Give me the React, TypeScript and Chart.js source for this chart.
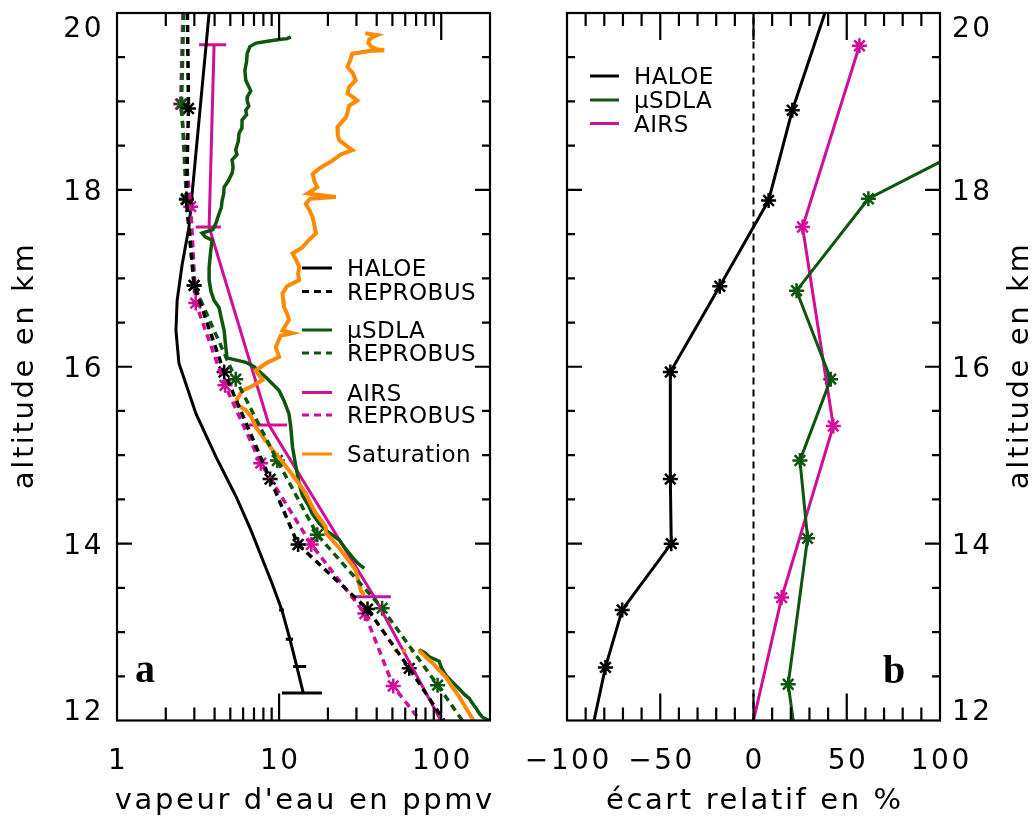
import React, { useEffect, useRef } from "react";
import { Chart, registerables } from "chart.js";

Chart.register(...registerables);

// ---------------- colours ----------------
const BLACK = "#000000";
const GREEN = "#0d560d";
const MAGENTA = "#cf0f9a";
const ORANGE = "#ff8a00";
const FONT = '"DejaVu Sans", "Liberation Sans", sans-serif';

// ---------------- Panel a : vapeur d'eau (ppmv) ----------------
// HALOE (solid black)
const haloeAlt = [20.0, 17.58, 17.15, 16.75, 16.41, 16.04, 15.47, 14.98, 14.53, 14.15, 13.55, 13.25, 12.91, 12.6, 12.31];
const haloeVap = [3.7, 2.78, 2.52, 2.35, 2.31, 2.41, 3.07, 4.08, 5.43, 6.71, 9.05, 10.4, 11.7, 12.9, 14.1];
const haloeErrAlt = [13.25, 12.92, 12.61, 12.31];
const haloeErrLo = [10.0, 11.0, 12.2, 10.4];
const haloeErrHi = [10.7, 12.2, 14.7, 18.4];

// REPROBUS interpolated to HALOE (black dashed + stars)
const repHaloeAlt = [20.0, 18.92, 17.89, 16.92, 15.94, 14.73, 13.99, 13.26, 12.59, 12.0];
const repHaloeVap = [2.72, 2.76, 2.68, 2.99, 4.58, 8.8, 13.1, 35.1, 63.5, 104];
const repHaloeStarAlt = [18.92, 17.89, 16.92, 15.94, 14.73, 13.99, 13.26, 12.59];
const repHaloeStarVap = [2.76, 2.68, 2.99, 4.58, 8.8, 13.1, 35.1, 63.5];

// µSDLA (solid green), two pieces separated by a data gap
const sdlaAltUpper = [19.73, 19.71, 19.7, 19.68, 19.66, 19.62, 19.54, 19.45, 19.35, 19.24, 19.12, 19.06, 19.01, 18.95, 18.9, 18.85, 18.79, 18.7, 18.64, 18.55, 18.45, 18.4, 18.34, 18.25, 18.19, 18.1, 18.03, 17.95, 17.88, 17.8, 17.73, 17.62, 17.55, 17.51, 17.47, 17.43, 17.3, 17.12, 16.98, 16.85, 16.75, 16.67, 16.55, 16.41, 16.22, 16.1, 16.05, 16.0, 15.88, 15.73, 15.62, 15.47, 15.32, 15.09, 14.87, 14.68, 14.55, 14.42, 14.34, 14.23, 14.15, 14.04, 13.95, 13.85, 13.78, 13.72];
const sdlaVapUpper = [11.8, 11.2, 10.0, 8.5, 7.2, 6.6, 6.35, 6.3, 6.15, 6.23, 6.69, 6.4, 6.35, 6.5, 6.23, 6.3, 5.91, 5.9, 5.66, 5.6, 5.4, 5.5, 5.13, 5.2, 5.13, 4.85, 4.58, 4.55, 4.45, 4.4, 4.26, 4.07, 3.9, 3.35, 3.5, 3.86, 3.78, 3.7, 3.7, 3.8, 3.97, 4.26, 4.4, 4.58, 4.69, 4.77, 6.23, 7.01, 8.28, 10.0, 10.7, 11.5, 11.8, 12.1, 12.7, 13.3, 13.9, 15.3, 16.0, 17.7, 19.5, 23.5, 25.5, 28.2, 30.5, 33.5];
const sdlaAltLower = [12.8, 12.76, 12.72, 12.67, 12.6, 12.51, 12.45, 12.36, 12.3, 12.25, 12.2, 12.14, 12.08, 12.04, 12.0];
const sdlaVapLower = [73.1, 80, 84.3, 97.2, 100, 107, 115, 129, 138, 149, 155, 164, 172, 179, 198];

// REPROBUS interpolated to µSDLA (green dashed + stars)
const repSdlaAlt = [20.0, 18.97, 17.9, 16.92, 15.86, 14.94, 14.1, 13.27, 12.4, 12.0];
const repSdlaVap = [2.58, 2.5, 2.68, 2.99, 5.4, 9.75, 17.2, 43.2, 95, 135];
const repSdlaStarAlt = [18.97, 17.9, 16.92, 15.86, 14.94, 14.1, 13.27, 12.4];
const repSdlaStarVap = [2.5, 2.68, 2.99, 5.4, 9.75, 17.2, 43.2, 95];

// AIRS (solid magenta) with horizontal error bars
const airsAlt = [19.64, 17.58, 15.34, 13.4, 12.0];
const airsVap = [3.97, 3.7, 8.67, 38.6, 99.5];
const airsErrAlt = [19.64, 17.58, 15.34, 13.4];
const airsErrLo = [3.21, 3.06, 6.53, 29.0];
const airsErrHi = [4.72, 4.37, 11.2, 48.9];

// REPROBUS interpolated to AIRS (magenta dashed + stars)
const repAirsAlt = [20.0, 18.97, 17.81, 16.72, 15.79, 14.91, 13.99, 13.21, 12.39, 12.0];
const repAirsVap = [2.55, 2.47, 2.85, 3.06, 4.64, 7.7, 15.8, 33.8, 50.6, 74];
const repAirsStarAlt = [18.97, 17.81, 16.72, 15.79, 14.91, 13.99, 13.21, 12.39];
const repAirsStarVap = [2.47, 2.85, 3.06, 4.64, 7.7, 15.8, 33.8, 50.6];

// Saturation (orange)
const satAltUpper = [19.77, 19.76, 19.75, 19.73, 19.7, 19.66, 19.62, 19.59, 19.58, 19.57, 19.55, 19.54, 19.47, 19.39, 19.32, 19.24, 19.16, 19.09, 19.04, 19.01, 18.95, 18.88, 18.82, 18.71, 18.62, 18.56, 18.5, 18.45, 18.4, 18.33, 18.25, 18.18, 18.1, 18.03, 17.96, 17.92, 17.9, 17.84, 17.76, 17.69, 17.6, 17.51, 17.43, 17.35, 17.28, 17.2, 17.13, 17.05, 16.98, 16.91, 16.83, 16.75, 16.68, 16.6, 16.53, 16.45, 16.41, 16.38, 16.35, 16.22, 16.11, 16.05, 15.96, 15.85, 15.78, 15.73, 15.64, 15.58, 15.51, 15.42, 15.32, 15.2, 15.06, 14.95, 14.83, 14.7, 14.57, 14.49, 14.42, 14.34, 14.19, 14.12, 14.04, 13.95, 13.85, 13.7, 13.58, 13.47, 13.42];
const satVapUpper = [34.0, 37, 40.3, 38, 36, 35.5, 37, 40, 44.5, 36, 31, 28.3, 27.5, 26.4, 28.5, 29.7, 27, 26.4, 29, 30.4, 27, 26.5, 25.8, 22.9, 23.0, 23.5, 26, 28.3, 24, 21.3, 18, 16.1, 16.5, 17.2, 15.0, 22.4, 15.5, 14.6, 15.5, 16.1, 16.5, 16.9, 15.2, 13.9, 12.1, 12.8, 13.3, 13.1, 13.3, 11.2, 10.5, 10.6, 10.7, 11.2, 11.5, 10.8, 10.5, 12.1, 10.2, 9.54, 10.0, 8.5, 7.18, 7.89, 6.8, 5.93, 5.53, 5.4, 6.23, 6.8, 7.18, 8.0, 9.09, 10.2, 11.5, 13.0, 14.6, 15.3, 16.0, 16.9, 19.4, 19.4, 21.3, 23.5, 25.8, 29.7, 30.8, 31.9, 33.5];
const satAltLower = [12.79, 12.72, 12.65, 12.57, 12.49, 12.4, 12.27, 12.18, 12.08, 12.0];
const satVapLower = [73.1, 80, 88.4, 97, 107, 115, 129, 138, 149, 158];
const satGapAlt = [12.79, 12.79];
const satGapVap = [51.3, 73.1];

// ---------------- Panel b : écart relatif (%) ----------------
const diffHaloeAlt = [20.0, 18.9, 17.88, 16.91, 15.94, 14.73, 14.0, 13.25, 12.6, 12.0];
const diffHaloeVal = [38.3, 20.8, 8.1, -18.1, -44.6, -44.6, -44.1, -70.4, -79.4, -85.5];
const diffHaloeStarAlt = [18.9, 17.88, 16.91, 15.94, 14.73, 14.0, 13.25, 12.6];
const diffHaloeStarVal = [20.8, 8.1, -18.1, -44.6, -44.6, -44.1, -70.4, -79.4];

const diffSdlaAlt = [18.5, 17.9, 16.86, 15.86, 14.94, 14.06, 12.41, 12.0];
const diffSdlaVal = [117, 61.6, 23.1, 41.4, 24.9, 29.0, 18.6, 21.3];
const diffSdlaStarAlt = [17.9, 16.86, 15.86, 14.94, 14.06, 12.41];
const diffSdlaStarVal = [61.6, 23.1, 41.4, 24.9, 29.0, 18.6];

const diffAirsAlt = [19.63, 17.58, 15.33, 13.39, 12.0];
const diffAirsVal = [56.8, 26.3, 42.8, 15.1, 0.0];
const diffAirsStarAlt = [19.63, 17.58, 15.33, 13.39];
const diffAirsStarVal = [56.8, 26.3, 42.8, 15.1];

const zeroLineAlt = [12, 20];
const zeroLineVal = [0, 0];

// ---------------- axis ticks ----------------
const altLabels = [12, 14, 16, 18, 20];
const altMajor = [14, 16, 18];
const altMinor = [12.5, 13, 13.5, 14.5, 15, 15.5, 16.5, 17, 17.5, 18.5, 19, 19.5];
const vapLabels = [1, 10, 100];
const vapMajor = [10, 100];
const vapMinor = [2, 3, 4, 5, 6, 7, 8, 9, 20, 30, 40, 50, 60, 70, 80, 90];
const diffLabels = [-100, -50, 0, 50, 100];
const diffMajor = [-50, 0, 50];
const diffMinor = [-90, -80, -70, -60, -40, -30, -20, -10, 10, 20, 30, 40, 60, 70, 80, 90];

// ---------------- helpers ----------------
const pts = (alt: number[], val: number[]) => alt.map((a, i) => ({ x: val[i], y: a }));

function lineDs(alt: number[], val: number[], color: string, width: number, dash: number[] = []) {
  return {
    data: pts(alt, val),
    showLine: true,
    borderColor: color,
    backgroundColor: color,
    borderWidth: width,
    borderDash: dash,
    pointRadius: 0,
    pointHoverRadius: 0,
    tension: 0,
  };
}

function starDs(alt: number[], val: number[], color: string) {
  return {
    data: pts(alt, val),
    showLine: false,
    pointStyle: "star",
    pointRadius: 7.5,
    pointBorderWidth: 2.5,
    borderColor: color,
    pointBorderColor: color,
    backgroundColor: color,
    pointHoverRadius: 7.5,
  };
}

function errBars(alt: number[], lo: number[], hi: number[], color: string, width: number) {
  return alt.map((a, i) => lineDs([a, a], [lo[i], hi[i]], color, width));
}

function fmtNum(v: number) {
  return v < 0 ? "\u2212" + String(-v) : String(v);
}

type LegendItem = { text: string; color: string; dash: number[]; y: number };
type Spec = {
  xMajor: number[];
  xMinor: number[];
  xLabels: number[];
  yMajor: number[];
  yMinor: number[];
  yLabels: number[];
  ySide: "left" | "right";
  xTitle: string;
  yTitle: string;
  yTitleX: number;
  legendX0: number;
  legendX1: number;
  legendTextX: number;
  legend: LegendItem[];
  letter: string;
  letterX: number;
  letterY: number;
};

function makeAxesPlugin(spec: Spec) {
  return {
    id: "idlAxes",
    afterDatasetsDraw(chart: any) {
      const { ctx, chartArea: a, scales } = chart;
      const xs = scales.x;
      const ys = scales.y;
      ctx.save();
      ctx.strokeStyle = BLACK;
      ctx.fillStyle = BLACK;
      ctx.lineWidth = 2.2;
      ctx.setLineDash([]);
      // frame
      ctx.strokeRect(a.left, a.top, a.right - a.left, a.bottom - a.top);
      // ticks
      ctx.beginPath();
      const xt = (v: number, len: number) => {
        const px = xs.getPixelForValue(v);
        ctx.moveTo(px, a.bottom);
        ctx.lineTo(px, a.bottom - len);
        ctx.moveTo(px, a.top);
        ctx.lineTo(px, a.top + len);
      };
      const yt = (v: number, len: number) => {
        const py = ys.getPixelForValue(v);
        ctx.moveTo(a.left, py);
        ctx.lineTo(a.left + len, py);
        ctx.moveTo(a.right, py);
        ctx.lineTo(a.right - len, py);
      };
      spec.xMajor.forEach((v) => xt(v, 27));
      spec.xMinor.forEach((v) => xt(v, 13));
      spec.yMajor.forEach((v) => yt(v, 15));
      spec.yMinor.forEach((v) => yt(v, 8));
      ctx.stroke();

      // tick labels
      const capH = 0.73 * 28;
      ctx.font = `28px ${FONT}`;
      (ctx as any).letterSpacing = "2.5px";
      ctx.textBaseline = "alphabetic";
      ctx.textAlign = "center";
      spec.xLabels.forEach((v) => {
        const px = xs.getPixelForValue(v);
        ctx.fillText(fmtNum(v), px + 1.25, a.bottom + 48);
      });
      spec.yLabels.forEach((v) => {
        let py = ys.getPixelForValue(v);
        py = Math.max(a.top + 14, Math.min(a.bottom - 11, py));
        if (spec.ySide === "left") {
          ctx.textAlign = "right";
          ctx.fillText(fmtNum(v), a.left - 13, py + capH / 2);
        } else {
          ctx.textAlign = "left";
          ctx.fillText(fmtNum(v), a.right + 12, py + capH / 2);
        }
      });

      // axis titles
      ctx.font = `29px ${FONT}`;
      (ctx as any).letterSpacing = "2.6px";
      ctx.textAlign = "center";
      ctx.fillText(spec.xTitle, (a.left + a.right) / 2 + 1.3, a.bottom + 88);
      ctx.save();
      ctx.translate(spec.yTitleX, (a.top + a.bottom) / 2);
      ctx.rotate(-Math.PI / 2);
      ctx.fillText(spec.yTitle, 1.3, 0);
      ctx.restore();

      // legend
      ctx.font = `23px ${FONT}`;
      (ctx as any).letterSpacing = "0.4px";
      ctx.textAlign = "left";
      ctx.lineWidth = 3;
      spec.legend.forEach((it) => {
        ctx.strokeStyle = it.color;
        ctx.setLineDash(it.dash);
        ctx.beginPath();
        ctx.moveTo(spec.legendX0, it.y);
        ctx.lineTo(spec.legendX1, it.y);
        ctx.stroke();
        ctx.fillStyle = BLACK;
        ctx.fillText(it.text, spec.legendTextX, it.y + 8.4);
      });
      ctx.setLineDash([]);

      // panel letter
      ctx.font = `bold 40px "Liberation Serif", serif`;
      (ctx as any).letterSpacing = "0px";
      ctx.textAlign = "center";
      ctx.fillStyle = BLACK;
      ctx.fillText(spec.letter, spec.letterX, spec.letterY);
      ctx.restore();
    },
  };
}

const baseOptions = (xScale: any, padding: any) => ({
  responsive: false,
  animation: false as const,
  events: [] as any[],
  layout: { padding },
  plugins: { legend: { display: false }, tooltip: { enabled: false } },
  scales: {
    x: { ...xScale, display: false },
    y: { type: "linear", min: 12, max: 20, display: false },
  },
});

export default function App() {
  const leftRef = useRef<HTMLCanvasElement>(null);
  const rightRef = useRef<HTMLCanvasElement>(null);

  useEffect(() => {
    const specA: Spec = {
      xMajor: vapMajor,
      xMinor: vapMinor,
      xLabels: vapLabels,
      yMajor: altMajor,
      yMinor: altMinor,
      yLabels: altLabels,
      ySide: "left",
      xTitle: "vapeur d'eau en ppmv",
      yTitle: "altitude en km",
      yTitleX: 33,
      legendX0: 302,
      legendX1: 332,
      legendTextX: 347,
      legend: [
        { text: "HALOE", color: BLACK, dash: [], y: 268 },
        { text: "REPROBUS", color: BLACK, dash: [7, 5], y: 291.5 },
        { text: "\u03bcSDLA", color: GREEN, dash: [], y: 330 },
        { text: "REPROBUS", color: GREEN, dash: [7, 5], y: 353 },
        { text: "AIRS", color: MAGENTA, dash: [], y: 392.5 },
        { text: "REPROBUS", color: MAGENTA, dash: [7, 5], y: 415 },
        { text: "Saturation", color: ORANGE, dash: [], y: 454 },
      ],
      letter: "a",
      letterX: 145,
      letterY: 682,
    };

    const dsA = [
      lineDs(repHaloeAlt, repHaloeVap, BLACK, 3.5, [7, 5]),
      lineDs(repSdlaAlt, repSdlaVap, GREEN, 3.5, [7, 5]),
      lineDs(repAirsAlt, repAirsVap, MAGENTA, 3.5, [7, 5]),
      lineDs(satAltUpper, satVapUpper, ORANGE, 4),
      lineDs(satAltLower, satVapLower, ORANGE, 4),
      lineDs(satGapAlt, satGapVap, ORANGE, 3.5, [4, 4]),
      lineDs(sdlaAltUpper, sdlaVapUpper, GREEN, 3.5),
      lineDs(sdlaAltLower, sdlaVapLower, GREEN, 3.5),
      lineDs(haloeAlt, haloeVap, BLACK, 3),
      ...errBars(haloeErrAlt, haloeErrLo, haloeErrHi, BLACK, 3),
      lineDs(airsAlt, airsVap, MAGENTA, 3),
      ...errBars(airsErrAlt, airsErrLo, airsErrHi, MAGENTA, 3),
      starDs(repHaloeStarAlt, repHaloeStarVap, BLACK),
      starDs(repSdlaStarAlt, repSdlaStarVap, GREEN),
      starDs(repAirsStarAlt, repAirsStarVap, MAGENTA),
    ];

    const chartA = new Chart(leftRef.current as HTMLCanvasElement, {
      type: "scatter",
      data: { datasets: dsA as any },
      options: baseOptions({ type: "logarithmic", min: 1, max: 200 }, { left: 117, right: 30, top: 13, bottom: 99.5 }) as any,
      plugins: [makeAxesPlugin(specA)],
    });

    const specB: Spec = {
      xMajor: diffMajor,
      xMinor: diffMinor,
      xLabels: diffLabels,
      yMajor: altMajor,
      yMinor: altMinor,
      yLabels: altLabels,
      ySide: "right",
      xTitle: "\u00e9cart relatif en %",
      yTitle: "altitude en km",
      yTitleX: 528,
      legendX0: 90,
      legendX1: 119,
      legendTextX: 134,
      legend: [
        { text: "HALOE", color: BLACK, dash: [], y: 76 },
        { text: "\u03bcSDLA", color: GREEN, dash: [], y: 100 },
        { text: "AIRS", color: MAGENTA, dash: [], y: 123.5 },
      ],
      letter: "b",
      letterX: 394,
      letterY: 683,
    };

    const dsB = [
      lineDs(zeroLineAlt, zeroLineVal, BLACK, 2, [7, 5]),
      lineDs(diffHaloeAlt, diffHaloeVal, BLACK, 3),
      lineDs(diffSdlaAlt, diffSdlaVal, GREEN, 3),
      lineDs(diffAirsAlt, diffAirsVal, MAGENTA, 3),
      starDs(diffHaloeStarAlt, diffHaloeStarVal, BLACK),
      starDs(diffSdlaStarAlt, diffSdlaStarVal, GREEN),
      starDs(diffAirsStarAlt, diffAirsStarVal, MAGENTA),
    ];

    const chartB = new Chart(rightRef.current as HTMLCanvasElement, {
      type: "scatter",
      data: { datasets: dsB as any },
      options: baseOptions({ type: "linear", min: -100, max: 100 }, { left: 67, right: 94, top: 13, bottom: 99.5 }) as any,
      plugins: [makeAxesPlugin(specB)],
    });

    return () => {
      chartA.destroy();
      chartB.destroy();
    };
  }, []);

  return (
    <div style={{ position: "absolute", left: 0, top: 0, width: 1034, height: 820, background: "#ffffff" }}>
      <canvas ref={leftRef} width={520} height={820} style={{ position: "absolute", left: 0, top: 0, width: 520, height: 820 }} />
      <canvas ref={rightRef} width={534} height={820} style={{ position: "absolute", left: 500, top: 0, width: 534, height: 820 }} />
    </div>
  );
}
